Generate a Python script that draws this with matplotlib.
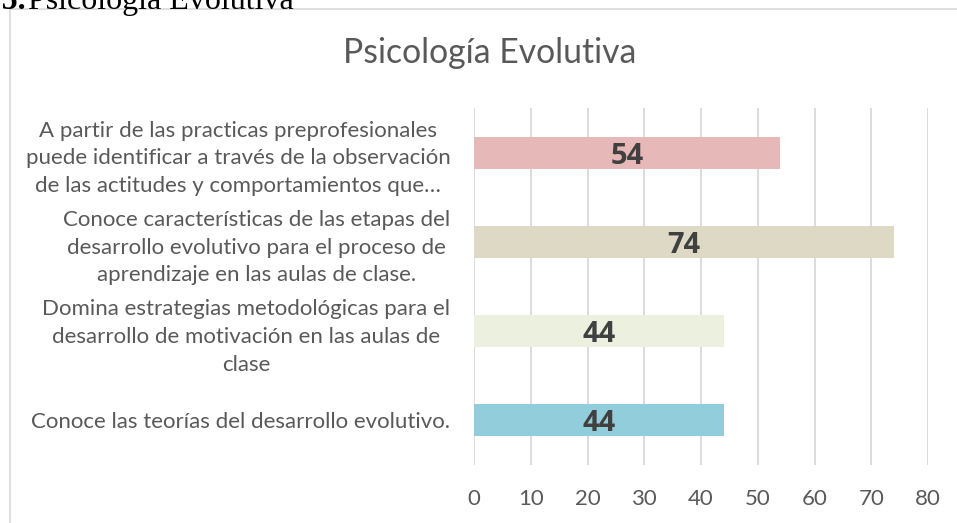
import matplotlib.pyplot as plt
from matplotlib.patches import Rectangle

plt.rcParams['font.family'] = ['Lato', 'DejaVu Sans']

categorias = [
    "A partir de las practicas preprofesionales\npuede identificar a través de la observación\nde las actitudes y comportamientos que…",
    "Conoce características de las etapas del\ndesarrollo evolutivo para el proceso de\naprendizaje en las aulas de clase.",
    "Domina estrategias metodológicas para el\ndesarrollo de motivación en las aulas de\nclase",
    "Conoce las teorías del desarrollo evolutivo.",
]
valores = [54, 74, 44, 44]
colores = ["#E6B8B7", "#DDD9C4", "#EBF1DE", "#92CDDC"]
xticks = [0, 10, 20, 30, 40, 50, 60, 70, 80]

W, H = 957, 523
fig = plt.figure(figsize=(W / 100, H / 100), dpi=100)

# caption of the document, cut by the top edge
fig.text(26 / W, 1 - 9 / H, "Figura 5.", fontsize=23, family="Liberation Serif",
         weight="bold", ha="right", va="baseline")
fig.text(28 / W, 1 - 9 / H, "Psicología Evolutiva", fontsize=23, family="Liberation Serif",
         ha="left", va="baseline")

# chart area frame
fig.patches.append(Rectangle((9.5 / W, -0.1), 1.1, 1 - 9.5 / H + 0.1, transform=fig.transFigure,
                             facecolor="white", edgecolor="#D9D9D9", lw=1.2, zorder=2))

ax = fig.add_axes([474 / W, 1 - 465 / H, (928 - 474) / W, (465 - 108) / H], zorder=3)
ax.patch.set_alpha(0)

pos = list(range(len(categorias)))
bars = ax.barh(pos, valores, height=0.36, color=colores, zorder=3)
etiquetas = ax.bar_label(bars, label_type="center", fontsize=21, weight="bold",
                         color="#404040", family="Open Sans")
for t in etiquetas:
    t.set_va("center_baseline")

ax.set_ylim(3.5, -0.5)
ax.set_xlim(0, 80)
ax.set_xticks(xticks)
ax.set_yticks(pos)
ax.set_yticklabels(categorias, multialignment="center", linespacing=1.48)
ax.tick_params(axis="y", length=0, pad=17, labelsize=16, labelcolor="#595959")
ax.tick_params(axis="x", length=0, pad=17, labelsize=16, labelcolor="#595959")
ax.grid(axis="x", color="#D9D9D9", lw=1.3, zorder=0)
for s in ax.spines.values():
    s.set_visible(False)

fig.text(490 / W, 1 - 63 / H, "Psicología Evolutiva", fontsize=24.3, color="#595959",
         ha="center", va="baseline", zorder=4)

fig.savefig("out.png", dpi=100)
